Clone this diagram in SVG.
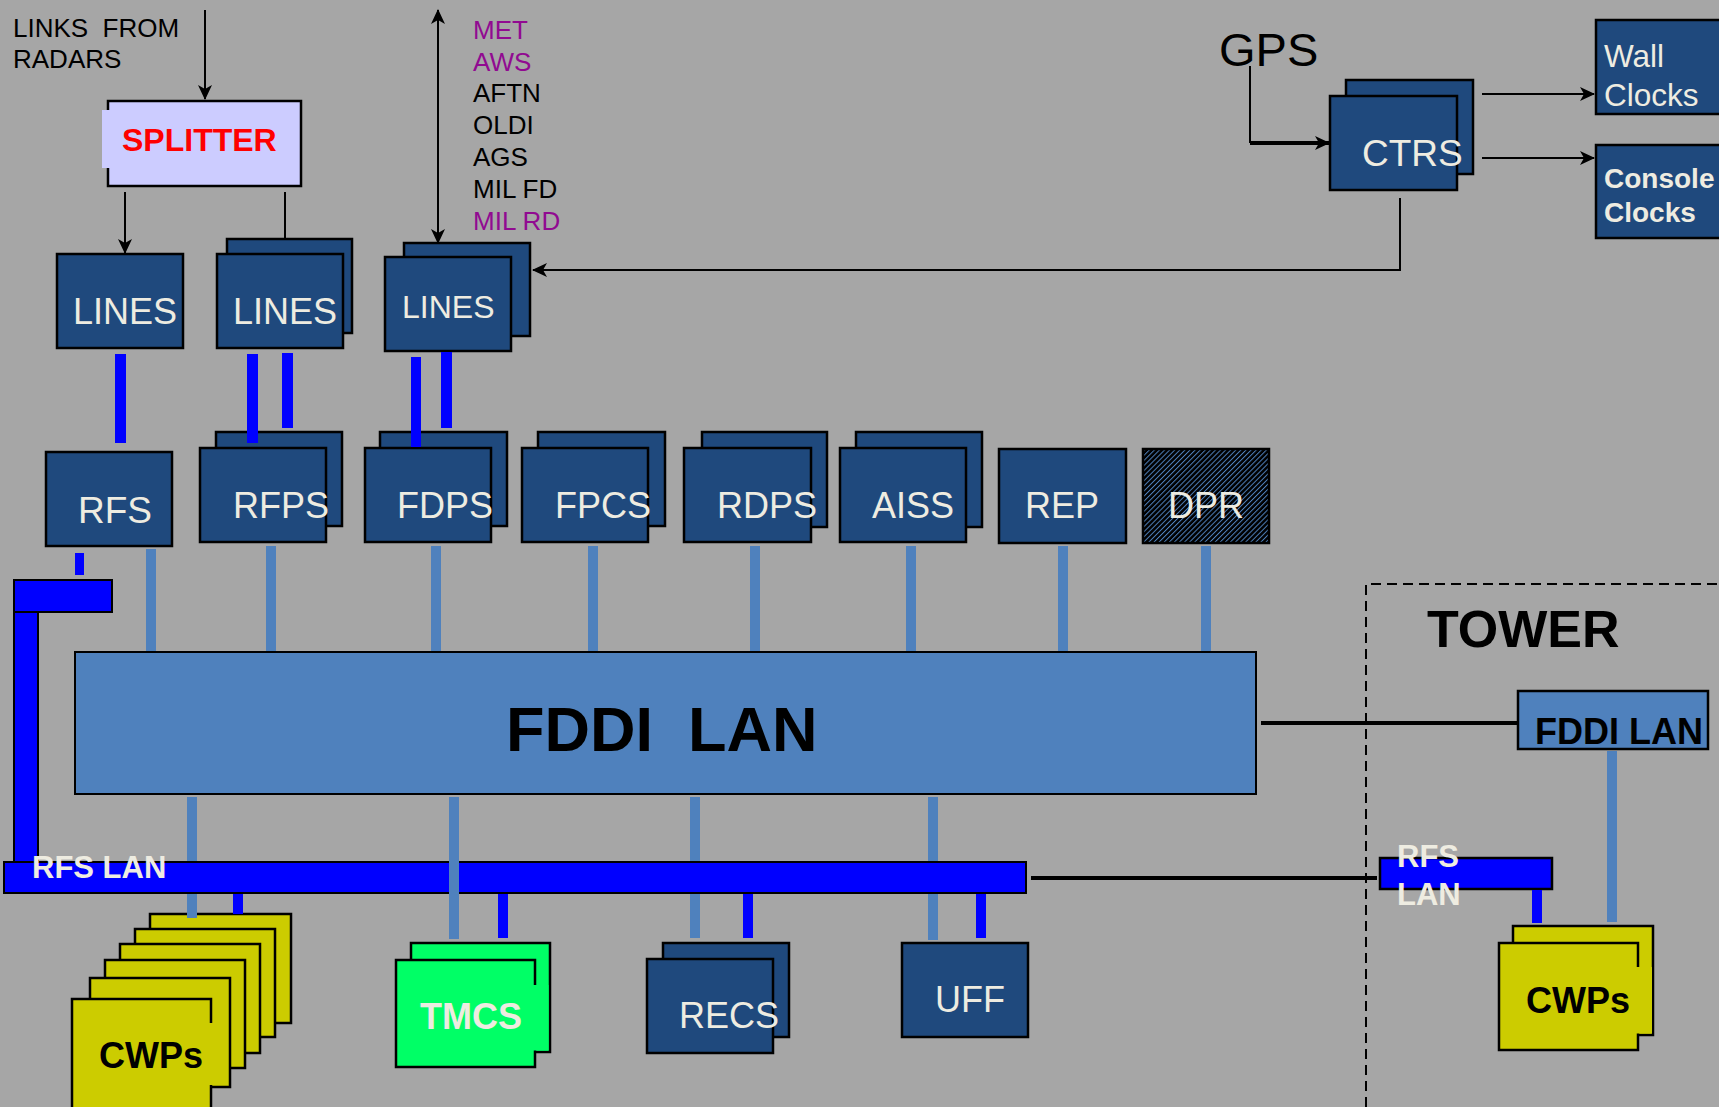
<svg xmlns="http://www.w3.org/2000/svg" width="1719" height="1107" viewBox="0 0 1719 1107">
<defs>
<style>
text{font-family:"Liberation Sans",Arial,sans-serif;white-space:pre}
.nb{fill:#1f497d;stroke:#000;stroke-width:2.5}
.lt{fill:#eeece1;font-size:36px}
.yl{fill:#cccc00;stroke:#000;stroke-width:2.5}
.gr{fill:#00ff66;stroke:#000;stroke-width:2.5}
.lb{fill:#4f81bd}
.db{fill:#0000ff}
.ln{stroke:#000;stroke-width:2;fill:none}
.thick{stroke:#000;stroke-width:4;fill:none}
.b{font-weight:bold}
.pu{fill:#910a91}
.bk{fill:#000}
.lst{font-size:26px}
</style>
<marker id="ah" markerUnits="userSpaceOnUse" markerWidth="15" markerHeight="14" viewBox="0 0 15 14" refX="14" refY="7" orient="auto-start-reverse">
<path d="M0,0 L15,7 L0,14 L4,7 z" fill="#000"/>
</marker>
<pattern id="hatch" patternUnits="userSpaceOnUse" width="3.6" height="10" patternTransform="rotate(45)">
<rect width="3.6" height="10" fill="#000"/>
<rect width="1" height="10" fill="#4f81bd"/>
</pattern>
</defs>
<rect width="1719" height="1107" fill="#a6a6a6"/>

<g id="labels">
<text x="13" y="37" class="bk" font-size="26">LINKS  FROM</text>
<text x="13" y="68" class="bk" font-size="26">RADARS</text>
<text x="473" y="39" class="pu lst">MET</text>
<text x="473" y="71" class="pu lst">AWS</text>
<text x="473" y="102" class="bk lst">AFTN</text>
<text x="473" y="134" class="bk lst">OLDI</text>
<text x="473" y="166" class="bk lst">AGS</text>
<text x="473" y="198" class="bk lst">MIL FD</text>
<text x="473" y="230" class="pu lst">MIL RD</text>
<text x="1219" y="66" class="bk" font-size="47">GPS</text>
</g>

<g id="tower-boundary">
<path d="M1366,1107 V584 H1719" fill="none" stroke="#000" stroke-width="2" stroke-dasharray="10 6"/>
<text x="1427" y="647" class="bk b" font-size="52">TOWER</text>
</g>

<g id="splitter">
<rect x="108" y="101" width="193" height="85" fill="#ccccff" stroke="#000" stroke-width="2.5"/>
<rect x="102" y="110" width="8" height="58" fill="#ccccff"/>
<text x="122" y="151" fill="#ff0000" class="b" font-size="32">SPLITTER</text>
</g>

<g id="lines1">
<rect class="nb" x="57" y="254" width="126" height="94"/>
<text x="73" y="324" class="lt">LINES</text>
</g>
<g id="lines2">
<rect class="nb" x="227" y="239" width="125" height="94"/>
<rect class="nb" x="217" y="254" width="126" height="94"/>
<text x="233" y="324" class="lt">LINES</text>
</g>
<g id="lines3">
<rect class="nb" x="404" y="243" width="126" height="93"/>
<rect class="nb" x="385" y="257" width="126" height="94"/>
<text x="402" y="318" class="lt" style="font-size:32px">LINES</text>
</g>

<g id="ctrs">
<rect class="nb" x="1346" y="80" width="127" height="94"/>
<rect class="nb" x="1330" y="96" width="127" height="94"/>
<text x="1362" y="166" class="lt" style="font-size:37px">CTRS</text>
</g>
<g id="wall-clocks">
<rect class="nb" x="1596" y="20" width="130" height="94"/>
<text x="1604" y="67" class="lt" style="font-size:31.5px">Wall</text>
<text x="1604" y="106" class="lt" style="font-size:31.5px">Clocks</text>
</g>
<g id="console-clocks">
<rect class="nb" x="1596" y="145" width="130" height="93"/>
<text x="1604" y="188" class="lt b" style="font-size:28px">Console</text>
<text x="1604" y="222" class="lt b" style="font-size:28px">Clocks</text>
</g>

<g id="rfs">
<rect class="nb" x="46" y="452" width="126" height="94"/>
<text x="78" y="523" class="lt" style="font-size:37px">RFS</text>
</g>
<g id="rfps">
<rect class="nb" x="216" y="432" width="126" height="94"/>
<rect class="nb" x="200" y="448" width="126" height="94"/>
<text x="233" y="518" class="lt">RFPS</text>
</g>
<g id="fdps">
<rect class="nb" x="380" y="432" width="127" height="94"/>
<rect class="nb" x="365" y="448" width="126" height="94"/>
<text x="397" y="518" class="lt">FDPS</text>
</g>
<g id="fpcs">
<rect class="nb" x="538" y="432" width="127" height="94"/>
<rect class="nb" x="522" y="448" width="126" height="94"/>
<text x="555" y="518" class="lt">FPCS</text>
</g>
<g id="rdps">
<rect class="nb" x="702" y="432" width="125" height="95"/>
<rect class="nb" x="684" y="448" width="127" height="94"/>
<text x="717" y="518" class="lt">RDPS</text>
</g>
<g id="aiss">
<rect class="nb" x="856" y="432" width="126" height="95"/>
<rect class="nb" x="840" y="448" width="126" height="94"/>
<text x="872" y="518" class="lt">AISS</text>
</g>
<g id="rep">
<rect class="nb" x="999" y="449" width="127" height="94"/>
<text x="1025" y="518" class="lt">REP</text>
</g>
<g id="dpr">
<rect x="1143" y="449" width="126" height="94" fill="url(#hatch)" stroke="#000" stroke-width="2.5"/>
<text x="1168" y="518" class="lt">DPR</text>
</g>

<g id="fddi-lan">
<rect x="75" y="652" width="1181" height="142" fill="#4f81bd" stroke="#000" stroke-width="2"/>
<text x="506" y="751" class="bk b" font-size="63">FDDI  LAN</text>
</g>

<g id="rfs-lan">
<rect x="14" y="580" width="98" height="32" class="db" stroke="#000" stroke-width="2"/>
<rect x="14" y="612" width="24" height="250" class="db" stroke="#000" stroke-width="2"/>
<rect x="4" y="862" width="1022" height="31" class="db" stroke="#000" stroke-width="2"/>
<text x="32" y="878" class="lt b" style="font-size:31px">RFS LAN</text>
</g>

<g id="cwps">
<rect class="yl" x="150" y="914" width="141" height="109"/>
<rect class="yl" x="135" y="929" width="140" height="108"/>
<rect class="yl" x="120" y="944" width="140" height="109"/>
<rect class="yl" x="105" y="960" width="140" height="108"/>
<rect class="yl" x="90" y="978" width="140" height="109"/>
<rect class="yl" x="72" y="999" width="139" height="112"/>
<rect x="209" y="1023" width="18" height="62" fill="#cccc00"/>
<text x="99" y="1068" class="bk b" font-size="36">CWPs</text>
</g>

<g id="tmcs">
<rect class="gr" x="411" y="943" width="139" height="109"/>
<rect class="gr" x="396" y="960" width="139" height="107"/>
<rect x="533" y="985" width="15.5" height="65.5" fill="#00ff66"/>
<text x="420" y="1029" class="lt b">TMCS</text>
</g>

<g id="recs">
<rect class="nb" x="663" y="943" width="126" height="94"/>
<rect class="nb" x="647" y="959" width="126" height="94"/>
<text x="679" y="1028" class="lt">RECS</text>
</g>

<g id="uff">
<rect class="nb" x="902" y="943" width="126" height="94"/>
<text x="935" y="1012" class="lt">UFF</text>
</g>

<g id="tower-fddi-lan">
<rect x="1518" y="691" width="190" height="58" fill="#4f81bd" stroke="#000" stroke-width="2.5"/>
<text x="1535" y="744" class="bk b" font-size="36">FDDI LAN</text>
</g>

<g id="tower-rfs-lan">
<rect x="1380" y="858" width="172" height="31" class="db" stroke="#000" stroke-width="2.5"/>
<text x="1397" y="867" class="lt b" style="font-size:31px">RFS</text>
<text x="1397" y="905" class="lt b" style="font-size:31px">LAN</text>
</g>

<g id="tower-cwps">
<rect class="yl" x="1513" y="926" width="140" height="109"/>
<rect class="yl" x="1499" y="943" width="139" height="107"/>
<rect x="1636" y="967" width="16" height="66.5" fill="#cccc00"/>
<text x="1526" y="1013" class="bk b" font-size="36">CWPs</text>
</g>

<g id="connectors">
<path class="ln" d="M205,10 V99" marker-end="url(#ah)"/>
<path class="ln" d="M125,192 V253" marker-end="url(#ah)"/>
<path class="ln" d="M285,192 V239"/>
<path class="ln" d="M438,10 V243" marker-start="url(#ah)" marker-end="url(#ah)"/>
<path class="ln" d="M1400,198 V270 H533" marker-end="url(#ah)"/>
<path class="ln" d="M1250,66 V143"/>
<path class="thick" d="M1250,143 H1329" marker-end="url(#ah)"/>
<path class="ln" d="M1482,94 H1594" marker-end="url(#ah)"/>
<path class="ln" d="M1482,158 H1594" marker-end="url(#ah)"/>
<path class="thick" d="M1261,723 H1518"/>
<path class="thick" d="M1031,878 H1377"/>

<rect class="db" x="115" y="354" width="11" height="89"/>
<rect class="db" x="247" y="354" width="11" height="89"/>
<rect class="db" x="282" y="353" width="11" height="75"/>
<rect class="db" x="411" y="357" width="10" height="90"/>
<rect class="db" x="441" y="352" width="11" height="76"/>
<rect class="db" x="75" y="553" width="9" height="22"/>

<rect class="lb" x="146" y="549" width="10" height="102"/>
<rect class="lb" x="266" y="546" width="10" height="105"/>
<rect class="lb" x="431" y="546" width="10" height="105"/>
<rect class="lb" x="588" y="546" width="10" height="105"/>
<rect class="lb" x="750" y="546" width="10" height="105"/>
<rect class="lb" x="906" y="546" width="10" height="105"/>
<rect class="lb" x="1058" y="546" width="10" height="105"/>
<rect class="lb" x="1201" y="546" width="10" height="105"/>

<rect class="lb" x="187" y="797" width="10" height="64"/>
<rect class="lb" x="187" y="894" width="10" height="24"/>
<rect class="lb" x="449" y="797" width="10" height="142"/>
<rect class="lb" x="690" y="797" width="10" height="64"/>
<rect class="lb" x="690" y="894" width="10" height="44"/>
<rect class="lb" x="928" y="797" width="10" height="64"/>
<rect class="lb" x="928" y="894" width="10" height="46"/>

<rect class="db" x="233" y="894" width="10" height="20"/>
<rect class="db" x="498" y="894" width="10" height="44"/>
<rect class="db" x="743" y="894" width="10" height="44"/>
<rect class="db" x="976" y="894" width="10" height="44"/>

<rect class="lb" x="1607" y="751" width="10" height="171"/>
<rect class="db" x="1532" y="890" width="10" height="33"/>
</g>
</svg>
